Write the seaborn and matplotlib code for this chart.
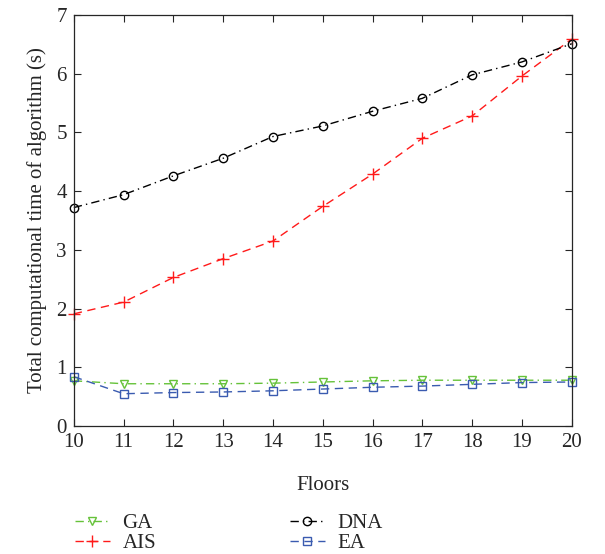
import matplotlib
matplotlib.use("Agg")
import matplotlib.pyplot as plt
import seaborn as sns
import pandas as pd

floors = [10, 11, 12, 13, 14, 15, 16, 17, 18, 19, 20]
ga = [0.77, 0.72, 0.72, 0.72, 0.73, 0.75, 0.77, 0.78, 0.78, 0.78, 0.78]
ais = [1.91, 2.11, 2.53, 2.85, 3.15, 3.74, 4.29, 4.90, 5.28, 5.96, 6.59]
dna = [3.72, 3.94, 4.26, 4.56, 4.93, 5.11, 5.36, 5.58, 5.98, 6.20, 6.51]
ea = [0.84, 0.55, 0.57, 0.58, 0.60, 0.63, 0.66, 0.68, 0.71, 0.74, 0.75]

sns.set_style("ticks")
plt.rcParams['font.family'] = ['Liberation Serif', 'DejaVu Serif']
FS = 15
plt.rcParams['font.size'] = FS

fig = plt.figure(figsize=(6.05, 5.54), dpi=100)
ax = fig.add_axes([0.122, 0.231, 0.823, 0.742])

styles = [
    ("GA", ga, "#66c23a", (0, (6, 3, 1, 3)), "v"),
    ("AIS", ais, "#ff1a1a", (0, (6, 4)), "+"),
    ("DNA", dna, "#000000", (0, (6, 3, 1, 3)), "o"),
    ("EA", ea, "#3a5bb0", (0, (6, 4)), "s"),
]
for name, vals, color, ls, mk in styles:
    df = pd.DataFrame({"Floors": floors, "t": vals})
    sns.lineplot(data=df, x="Floors", y="t", ax=ax, color=color, linewidth=1.0,
                 linestyle=ls, marker=mk, markersize=6 if mk != "+" else 8,
                 markerfacecolor="none" if mk != "+" else color,
                 markeredgecolor=color, markeredgewidth=1.0, label=name, legend=False,
                 clip_on=False)

ax.set_xlim(10, 20)
ax.set_ylim(0, 7)
ax.set_xticks(floors)
ax.set_yticks(range(0, 8))
ax.tick_params(direction="in", top=True, right=True, length=5, width=0.8, labelsize=FS, pad=5)
for s in ax.spines.values():
    s.set_linewidth(0.9)
ax.set_xlabel("Floors", fontsize=FS, labelpad=17)
ax.set_ylabel("Total computational time of algorithm (s)", fontsize=FS, labelpad=7)

lines = ax.get_lines()
leg = ax.legend(lines[:4], ["GA", "AIS", "DNA", "EA"], ncol=2, frameon=False,
                loc="upper left", bbox_to_anchor=(-0.036, -0.168), fontsize=FS,
                handlelength=1.7, columnspacing=6.4, labelspacing=0.0, handletextpad=0.6)

fig.savefig("out.png", dpi=100)
